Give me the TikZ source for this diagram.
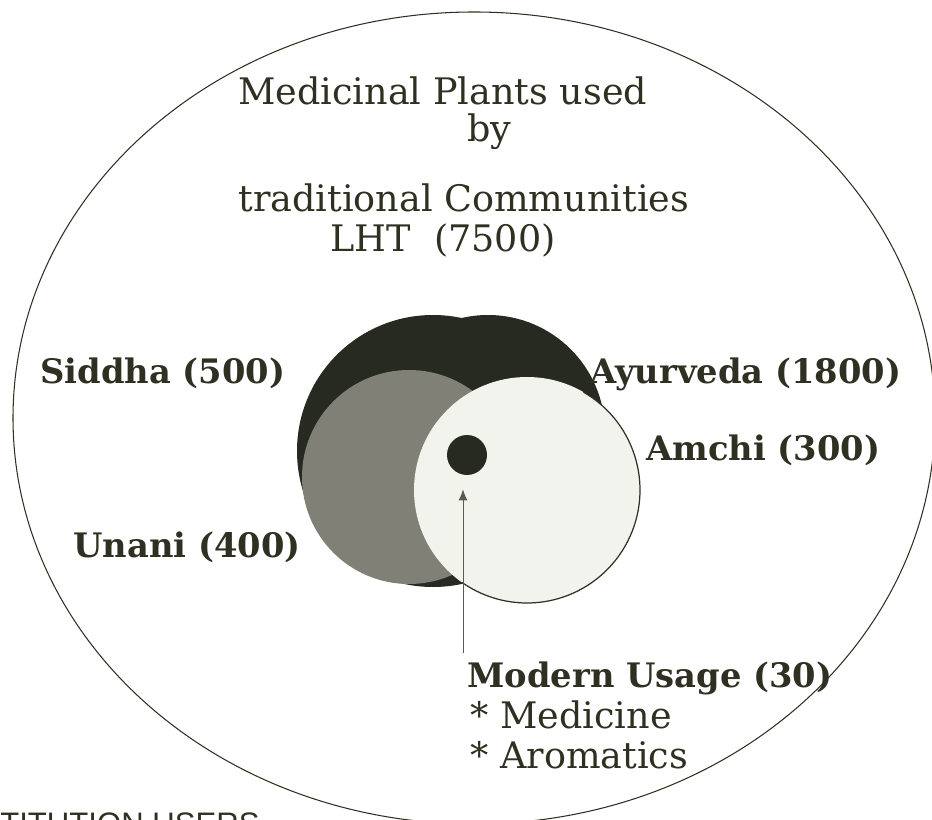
\documentclass[tikz,border=0pt]{standalone}
\usepackage{fontspec}
\setmainfont{DejaVu Serif}
\setsansfont{Liberation Sans}
\usetikzlibrary{arrows.meta}
\definecolor{ink}{RGB}{48,48,34}
\definecolor{darkfill}{RGB}{38,42,32}
\definecolor{midfill}{RGB}{128,128,118}
\definecolor{palefill}{RGB}{243,243,238}
\tikzset{
  plaintext/.style={font=\fontsize{20.8}{24}\selectfont, text=ink, inner sep=0pt, anchor=base west},
  boldlabel/.style={font=\bfseries\fontsize{19.2}{22}\selectfont, text=ink, inner sep=0pt, anchor=base west},
  dotnode/.style={circle, fill=darkfill, minimum size=0.8cm, inner sep=0pt},
}
\begin{document}
\begin{tikzpicture}[x=0.02cm, y=-0.02cm]
	\useasboundingbox (0,0) rectangle (932,820);
	% outer ellipse
	\draw[ink, line width=0.6pt] (474,418) ellipse [x radius=461, y radius=406];
	% overlapping systems
	\fill[darkfill] (433,451) circle (136);
	\fill[darkfill] (488,432) circle (117);
	\fill[midfill] (409,477) circle (107);
	\fill[palefill] (527,490) circle (113);
	\draw[ink, line width=0.7pt] (527,490) ++(-60:113) arc[start angle=-60, end angle=125, radius=113];
	\node[dotnode] (core) at (467,455) {};
	% texts
	\node[plaintext] (title1) at (238,105) {Medicinal Plants used};
	\node[plaintext] (title2) at (467,142) {by};
	\node[plaintext] (title3) at (238,212) {traditional Communities};
	\node[plaintext] (title4) at (330,252) {LHT\ \ (7500)};
	\node[boldlabel] (siddha) at (40,383) {Siddha (500)};
	\node[boldlabel] (ayurveda) at (590,383) {Ayurveda (1800)};
	\node[boldlabel] (amchi) at (646,460) {Amchi (300)};
	\node[boldlabel] (unani) at (73,557) {Unani (400)};
	\node[boldlabel] (modern) at (467,687) {Modern Usage (30)};
	\node[plaintext] (medicine) at (470,728) {* Medicine};
	\node[plaintext] (aromatics) at (470,768) {* Aromatics};
	\node[font=\sffamily\fontsize{17.7}{20}\selectfont, text=ink, inner sep=0pt, anchor=base west] (users) at (0,834) {TITUTION USERS};
	% arrow to the core
	\coordinate (tail) at (463,653);
	\draw[ink!80, line width=0.5pt, -{Latex[length=2.2mm, width=1.8mm]}, shorten >=8] (tail) -- (tail |- core.south);
\end{tikzpicture}
\end{document}
